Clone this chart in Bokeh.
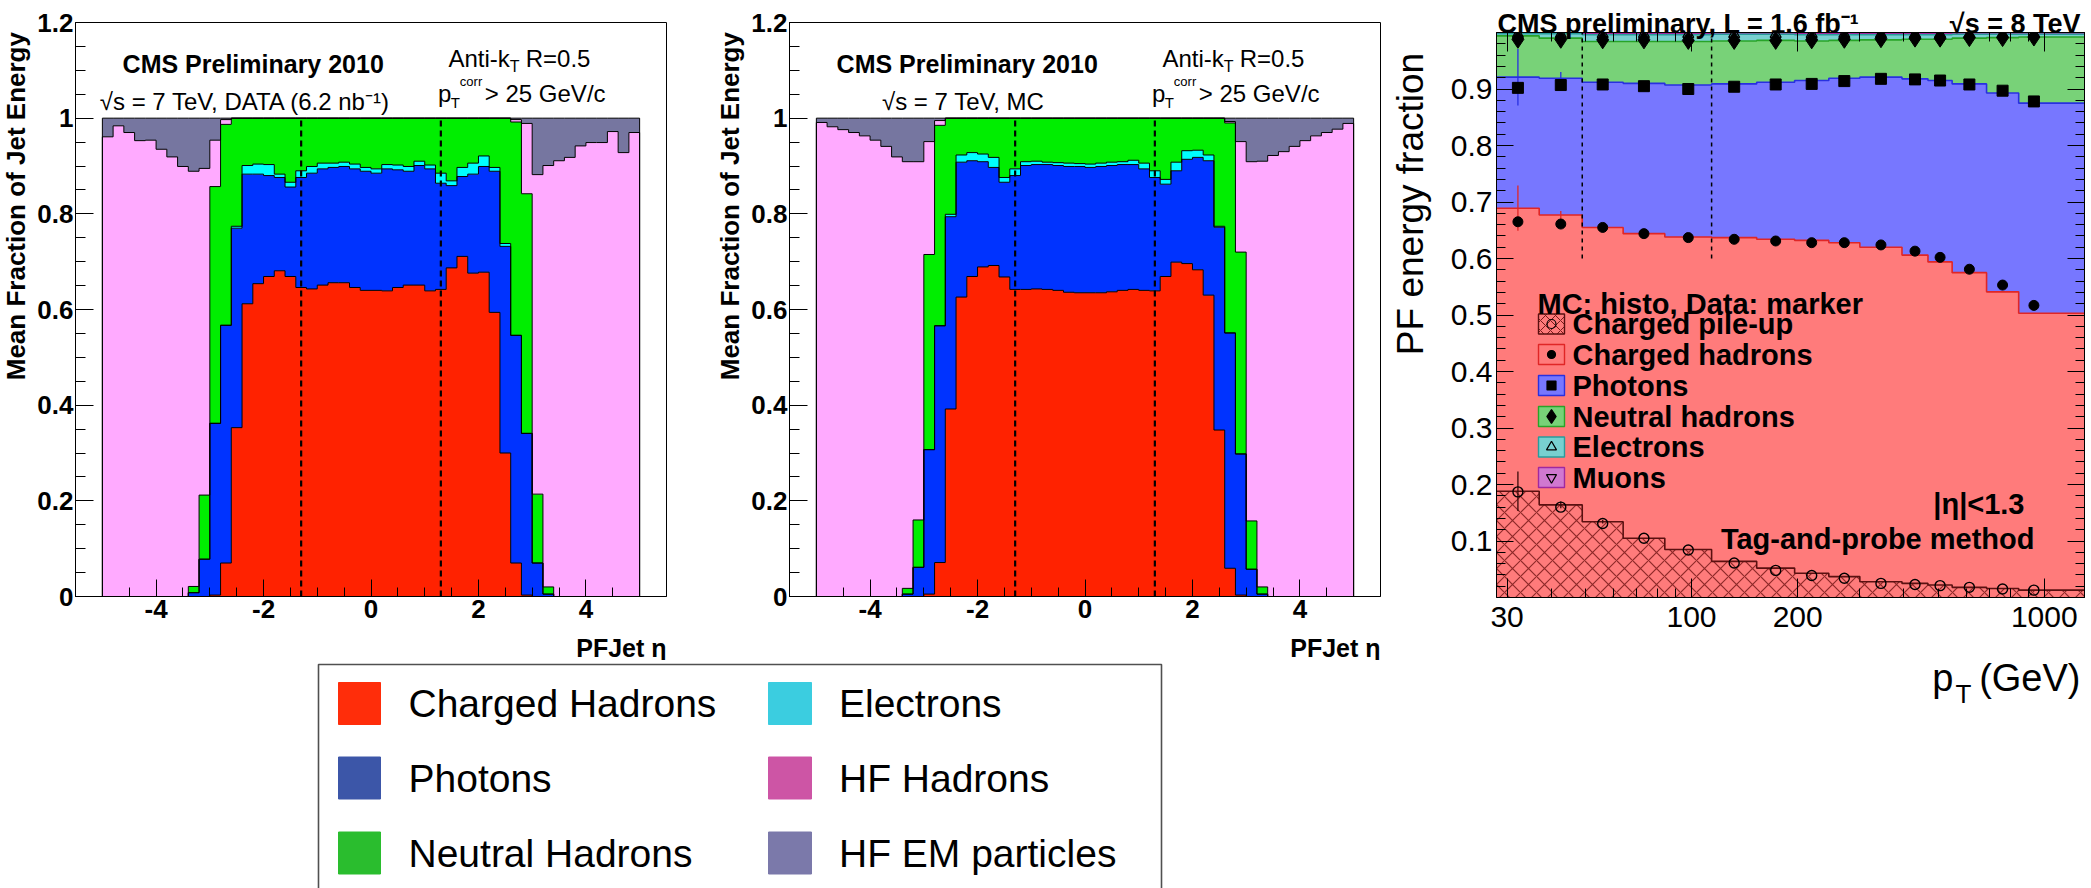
import numpy as np
from bokeh.plotting import figure
from bokeh.models import Range1d, FixedTicker, Label, LinearAxis, LogAxis
from bokeh.layouts import row, column
from bokeh.embed import file_html
from bokeh.resources import INLINE

FONT = "Liberation Sans"

# ------------------------------------------------------------------
# PF jet energy composition versus eta (2010 data and simulation)
# ------------------------------------------------------------------
eta_edges = np.round(np.linspace(-5.0, 5.0, 51), 3)
eta_cuts = [-1.3, 1.3]
cut_top = 1.0

eta_ticks = [-4, -2, 0, 2, 4]
eta_tick_labels = ["-4", "-2", "0", "2", "4"]
frac_ticks = [0.0, 0.2, 0.4, 0.6, 0.8, 1.0, 1.2]
frac_tick_labels = ["0", "0.2", "0.4", "0.6", "0.8", "1", "1.2"]

# stacking order: charged hadrons, photons, electrons, neutral hadrons, HF hadrons, HF EM
species_colors = ["#ff2200", "#0033ff", "#00ffff", "#00ee00", "#ffaaff", "#7676a0"]

data10_ch = [
    0, 0, 0, 0, 0, 0, 0, 0, 0, 0,
    0.003, 0.070, 0.353, 0.612, 0.654, 0.669, 0.681, 0.669, 0.646, 0.643,
    0.651, 0.656, 0.656, 0.646, 0.640, 0.640, 0.639, 0.646, 0.651, 0.651,
    0.639, 0.642, 0.687, 0.711, 0.676, 0.678, 0.594, 0.300, 0.070, 0.003,
    0, 0, 0, 0, 0, 0, 0, 0, 0, 0]
data10_ph = [
    0, 0, 0, 0, 0, 0, 0, 0, 0.008, 0.078,
    0.359, 0.497, 0.417, 0.271, 0.229, 0.211, 0.195, 0.187, 0.230, 0.242,
    0.243, 0.241, 0.243, 0.248, 0.249, 0.245, 0.255, 0.246, 0.238, 0.250,
    0.255, 0.222, 0.172, 0.167, 0.207, 0.221, 0.295, 0.432, 0.476, 0.338,
    0.070, 0.005, 0, 0, 0, 0, 0, 0, 0, 0]
data10_el = [
    0, 0, 0, 0, 0, 0, 0, 0, 0, 0,
    0, 0, 0.004, 0.018, 0.021, 0.023, 0.007, 0.010, 0.014, 0.014,
    0.012, 0.009, 0.009, 0.010, 0.008, 0.009, 0.009, 0.010, 0.010, 0.009,
    0.008, 0.021, 0.010, 0.019, 0.023, 0.022, 0.008, 0.006, 0, 0,
    0, 0, 0, 0, 0, 0, 0, 0, 0, 0]
data10_nh = [
    0, 0, 0, 0, 0, 0, 0, 0, 0.013, 0.134,
    0.495, 0.420, 0.226, 0.099, 0.096, 0.097, 0.117, 0.134, 0.110, 0.101,
    0.094, 0.094, 0.092, 0.096, 0.103, 0.106, 0.097, 0.098, 0.101, 0.090,
    0.098, 0.115, 0.131, 0.103, 0.094, 0.079, 0.103, 0.262, 0.446, 0.501,
    0.144, 0.015, 0, 0, 0, 0, 0, 0, 0, 0]
data10_hfh = [
    0.961, 0.984, 0.970, 0.953, 0.954, 0.935, 0.919, 0.899, 0.868, 0.683,
    0.097, 0.010, 0, 0, 0, 0, 0, 0, 0, 0,
    0, 0, 0, 0, 0, 0, 0, 0, 0, 0,
    0, 0, 0, 0, 0, 0, 0, 0, 0.005, 0.147,
    0.668, 0.881, 0.911, 0.918, 0.942, 0.949, 0.949, 0.972, 0.928, 0.970]
data10_hfem = [
    0.039, 0.016, 0.030, 0.047, 0.046, 0.065, 0.081, 0.101, 0.111, 0.105,
    0.046, 0.003, 0, 0, 0, 0, 0, 0, 0, 0,
    0, 0, 0, 0, 0, 0, 0, 0, 0, 0,
    0, 0, 0, 0, 0, 0, 0, 0, 0.003, 0.011,
    0.118, 0.099, 0.089, 0.082, 0.058, 0.051, 0.051, 0.028, 0.072, 0.030]

mc10_ch = [
    0, 0, 0, 0, 0, 0, 0, 0, 0, 0,
    0.005, 0.071, 0.392, 0.626, 0.669, 0.689, 0.692, 0.668, 0.642, 0.642,
    0.643, 0.642, 0.640, 0.636, 0.635, 0.635, 0.635, 0.637, 0.640, 0.642,
    0.640, 0.639, 0.669, 0.699, 0.696, 0.683, 0.630, 0.348, 0.059, 0.003,
    0, 0, 0, 0, 0, 0, 0, 0, 0, 0]
mc10_ph = [
    0, 0, 0, 0, 0, 0, 0, 0, 0.005, 0.061,
    0.302, 0.495, 0.402, 0.282, 0.242, 0.220, 0.205, 0.198, 0.238, 0.259,
    0.260, 0.261, 0.261, 0.263, 0.264, 0.262, 0.264, 0.264, 0.263, 0.261,
    0.254, 0.237, 0.193, 0.191, 0.218, 0.235, 0.281, 0.424, 0.492, 0.295,
    0.057, 0.005, 0, 0, 0, 0, 0, 0, 0, 0]
mc10_el = [
    0, 0, 0, 0, 0, 0, 0, 0, 0, 0,
    0, 0, 0.005, 0.015, 0.017, 0.016, 0.021, 0.010, 0.014, 0.008,
    0.007, 0.005, 0.006, 0.007, 0.006, 0.007, 0.007, 0.007, 0.006, 0.009,
    0.012, 0.014, 0.010, 0.018, 0.018, 0.015, 0.012, 0.002, 0, 0,
    0, 0, 0, 0, 0, 0, 0, 0, 0, 0]
mc10_nh = [
    0, 0, 0, 0, 0, 0, 0, 0, 0.012, 0.099,
    0.408, 0.419, 0.201, 0.077, 0.072, 0.075, 0.082, 0.124, 0.106, 0.091,
    0.090, 0.092, 0.093, 0.094, 0.095, 0.096, 0.094, 0.092, 0.091, 0.088,
    0.094, 0.110, 0.128, 0.092, 0.068, 0.067, 0.077, 0.226, 0.439, 0.422,
    0.101, 0.015, 0, 0, 0, 0, 0, 0, 0, 0]
mc10_hfh = [
    0.991, 0.982, 0.976, 0.970, 0.963, 0.954, 0.941, 0.919, 0.892, 0.749,
    0.236, 0.010, 0, 0, 0, 0, 0, 0, 0, 0,
    0, 0, 0, 0, 0, 0, 0, 0, 0, 0,
    0, 0, 0, 0, 0, 0, 0, 0, 0.003, 0.231,
    0.751, 0.890, 0.922, 0.930, 0.941, 0.953, 0.963, 0.970, 0.977, 0.989]
mc10_hfem = [
    0.009, 0.018, 0.024, 0.030, 0.037, 0.046, 0.059, 0.081, 0.091, 0.091,
    0.049, 0.005, 0, 0, 0, 0, 0, 0, 0, 0,
    0, 0, 0, 0, 0, 0, 0, 0, 0, 0,
    0, 0, 0, 0, 0, 0, 0, 0, 0.007, 0.049,
    0.091, 0.090, 0.078, 0.070, 0.059, 0.047, 0.037, 0.030, 0.023, 0.011]

legend_labels = ["Charged Hadrons", "Photons", "Neutral Hadrons",
                 "Electrons", "HF Hadrons", "HF EM particles"]
legend_colors = ["#ff2d0a", "#3c56a8", "#2abd2e", "#3bcde0", "#cd55a5", "#7b79aa"]

# ------------------------------------------------------------------
# PF jet energy composition versus pT, |eta| < 1.3 (tag-and-probe)
# ------------------------------------------------------------------
pt_edges = [28, 37, 49, 64, 84, 114, 153, 196, 245, 300, 395, 468, 548, 686, 846, 1327]
pt_data = [32.2, 42.6, 56.0, 73.3, 97.9, 132.1, 173.2, 219.1, 271.1, 344.3,
           430.0, 506.5, 613.2, 761.6, 934.4]
pt_cuts = [49, 114]
pt_cut_span = (0.6, 1.0)
pt_ticks = [30, 100, 200, 1000]
pt_tick_labels = ["30", "100", "200", "1000"]
pt_minor = [40, 50, 60, 70, 80, 90, 300, 400, 500, 600, 700, 800, 900]
pf_ticks = [0.1, 0.2, 0.3, 0.4, 0.5, 0.6, 0.7, 0.8, 0.9]
pf_tick_labels = ["0.1", "0.2", "0.3", "0.4", "0.5", "0.6", "0.7", "0.8", "0.9"]
pf_minor = [v / 50 for v in range(1, 50)]

# simulation (stacked histogram): pile-up, charged hadrons, photons, neutral hadrons, electrons, muons
mc_pu = [0.188, 0.164, 0.134, 0.105, 0.085, 0.064, 0.052, 0.043, 0.037, 0.028, 0.025, 0.022, 0.018, 0.016, 0.013]
mc_ch = [0.501, 0.513, 0.521, 0.539, 0.553, 0.573, 0.582, 0.589, 0.591, 0.592, 0.581, 0.572, 0.557, 0.525, 0.490]
mc_ph = [0.232, 0.242, 0.257, 0.266, 0.269, 0.272, 0.278, 0.283, 0.291, 0.301, 0.312, 0.321, 0.334, 0.352, 0.372]
mc_nh = [0.073, 0.071, 0.072, 0.074, 0.077, 0.076, 0.074, 0.070, 0.067, 0.066, 0.070, 0.073, 0.081, 0.098, 0.117]
mc_el = [0.004, 0.008, 0.012, 0.012, 0.012, 0.012, 0.011, 0.011, 0.010, 0.009, 0.008, 0.008, 0.007, 0.006, 0.005]
mc_mu = [0.002, 0.002, 0.002, 0.002, 0.002, 0.002, 0.002, 0.002, 0.002, 0.002, 0.002, 0.002, 0.002, 0.002, 0.002]
mc_err_pu = [0.035, 0.006, 0.003, 0, 0, 0, 0, 0, 0, 0, 0, 0, 0, 0, 0]
mc_err_ch = [0.040, 0.007, 0.003, 0, 0, 0, 0, 0, 0, 0, 0, 0, 0, 0, 0]
mc_err_ph = [0.050, 0.011, 0.003, 0, 0, 0, 0, 0, 0, 0, 0, 0, 0, 0, 0]

# data (markers), same stacking
data_pu = [0.187, 0.160, 0.131, 0.105, 0.084, 0.061, 0.048, 0.039, 0.034, 0.025, 0.023, 0.021, 0.018, 0.015, 0.013]
data_ch = [0.478, 0.501, 0.524, 0.539, 0.553, 0.573, 0.583, 0.589, 0.594, 0.599, 0.590, 0.581, 0.563, 0.538, 0.504]
data_ph = [0.237, 0.246, 0.253, 0.261, 0.263, 0.270, 0.277, 0.281, 0.286, 0.294, 0.304, 0.313, 0.327, 0.344, 0.361]
data_nh = [0.086, 0.081, 0.079, 0.082, 0.086, 0.082, 0.078, 0.078, 0.074, 0.071, 0.073, 0.075, 0.083, 0.094, 0.114]
data_el = [0.009, 0.009, 0.010, 0.010, 0.011, 0.011, 0.011, 0.010, 0.009, 0.008, 0.007, 0.007, 0.006, 0.006, 0.005]

pf_labels = ["Charged pile-up", "Charged hadrons", "Photons", "Neutral hadrons", "Electrons", "Muons"]
pf_fill = ["#ff7b7b", "#ff7b7b", "#7777ff", "#78d278", "#78d0d0", "#d078d0"]
pf_line = ["#5a1010", "#e02626", "#2830e0", "#28a428", "#289c9c", "#a028a0"]


# ------------------------------------------------------------------
def step_xy(edges, values):
    return np.repeat(np.asarray(edges, float), 2)[1:-1], np.repeat(np.asarray(values, float), 2)


def make_label(x, y, text, size, bold=False, align="left", baseline="alphabetic", angle=0.0):
    return Label(x=x, y=y, text=text, text_font=FONT, text_font_size=f"{size}px",
                 text_font_style="bold" if bold else "normal", text_align=align,
                 text_baseline=baseline, angle=angle, text_color="black")


def add_label(p, *args, **kw):
    p.add_layout(make_label(*args, **kw))


def style_axis(ax, tick_in, minor_in, standoff, size, bold):
    ax.major_tick_in = tick_in
    ax.major_tick_out = 0
    ax.minor_tick_in = minor_in
    ax.minor_tick_out = 0
    ax.major_label_standoff = standoff
    ax.major_label_text_font = FONT
    ax.major_label_text_font_style = "bold" if bold else "normal"
    ax.major_label_text_font_size = f"{size}px"
    ax.major_label_text_color = "black"
    ax.axis_line_color = "black"
    ax.major_tick_line_color = "black"
    ax.minor_tick_line_color = "black"


def tick_only_axis(cls, positions, length):
    # an unlabeled axis carrying only tick marks of one length
    ax = cls(ticker=FixedTicker(ticks=[], minor_ticks=positions))
    ax.minor_tick_in = length
    ax.minor_tick_out = 0
    ax.major_tick_in = 0
    ax.major_tick_out = 0
    ax.major_label_standoff = 0
    ax.axis_line_color = "black"
    ax.minor_tick_line_color = "black"
    return ax


def title_strip(x0, x1, height, text, x_mid, y_end, size, bold):
    # narrow strip holding a vertical axis title, in page pixel coordinates
    s = figure(width=x1 - x0, height=height, x_range=Range1d(x0, x1), y_range=Range1d(height, 0),
               min_border=0, x_axis_location=None, y_axis_location=None,
               output_backend="svg", toolbar_location=None)
    s.grid.visible = False
    s.outline_line_color = None
    add_label(s, x_mid, y_end, text, size, bold=bold, align="right", baseline="middle",
              angle=np.pi / 2)
    return s


# geometry of the eta panels: frame 592 x 574 at page offset (74, 22)
def ex(px):
    return -5.5 + (px - 74) * 11.0 / 592


def ey(py):
    return (596 - py) * 1.2 / 574


def eta_figure(width, border_right, fracs, energy_text, energy_cx):
    p = figure(width=width, height=660, x_range=Range1d(-5.5, 5.5), y_range=Range1d(0, 1.2),
               min_border_left=40, min_border_right=border_right, min_border_top=22,
               min_border_bottom=64, output_backend="svg", toolbar_location=None)
    p.grid.visible = False
    p.outline_line_color = "black"
    p.outline_line_width = 1

    base = np.zeros(len(eta_edges) - 1)
    tops = []
    for frac, color in zip(fracs, species_colors):
        top = base + np.asarray(frac, float)
        xs, y1 = step_xy(eta_edges, base)
        _, y2 = step_xy(eta_edges, top)
        p.varea(x=xs, y1=y1, y2=y2, fill_color=color, fill_alpha=1.0)
        tops.append(top)
        base = top
    for top in tops:
        xs, ys = step_xy(eta_edges, top)
        p.line(x=np.concatenate([[eta_edges[0]], xs, [eta_edges[-1]]]),
               y=np.concatenate([[0.0], ys, [0.0]]), line_color="black", line_width=1)
    p.segment(x0=eta_cuts, y0=[0.0] * len(eta_cuts), x1=eta_cuts, y1=[cut_top] * len(eta_cuts),
              line_color="black", line_width=2.2, line_dash="6 4")

    xa, ya = p.xaxis[0], p.yaxis[0]
    xa.ticker = FixedTicker(ticks=eta_ticks, minor_ticks=[v / 2 for v in range(-10, 11)])
    xa.major_label_overrides = dict(zip(eta_ticks, eta_tick_labels))
    ya.ticker = FixedTicker(ticks=frac_ticks, minor_ticks=[v / 20 for v in range(0, 25)])
    ya.major_label_overrides = dict(zip(frac_ticks, frac_tick_labels))
    style_axis(xa, 17, 9, 3, 26, True)
    style_axis(ya, 18, 10, 2, 26, True)

    add_label(p, ex(252), ey(63), "CMS Preliminary 2010", 25, bold=True, align="center")
    add_label(p, ex(energy_cx), ey(101), energy_text, 24, align="center")
    add_label(p, ex(509), ey(58), "Anti-k", 24, align="right")
    add_label(p, ex(509), ey(66), "T", 16)
    add_label(p, ex(525), ey(58), "R=0.5", 24)
    add_label(p, ex(437), ey(93), "p", 24)
    add_label(p, ex(450), ey(102), "T", 15)
    add_label(p, ex(459), ey(81), "corr", 13)
    add_label(p, ex(484), ey(93), "> 25 GeV/c", 24)
    # x title below the frame, kept in the bottom panel so it is not clipped
    p.add_layout(make_label(ex(666), ey(647), "PFJet \u03b7", 25, bold=True, align="right",
                            baseline="middle"), "below")
    return p


p_data = eta_figure(680, 48, [data10_ch, data10_ph, data10_el, data10_nh, data10_hfh, data10_hfem],
                    "\u221as = 7 TeV, DATA (6.2 nb\u207b\u00b9)", 244)
p_mc = eta_figure(634, 2, [mc10_ch, mc10_ph, mc10_el, mc10_nh, mc10_hfh, mc10_hfem],
                  "\u221as = 7 TeV, MC", 248)
t_data = title_strip(0, 34, 660, "Mean Fraction of Jet Energy", 15.5, 11, 26, True)
t_mc = title_strip(0, 34, 660, "Mean Fraction of Jet Energy", 15.5, 11, 26, True)

# ------------------------------------------------------------------
# shared legend for the two eta panels
leg = figure(width=1382, height=228, x_range=Range1d(0, 1382), y_range=Range1d(888, 660),
             min_border=0, x_axis_location=None, y_axis_location=None,
             output_backend="svg", toolbar_location=None)
leg.grid.visible = False
leg.outline_line_color = None
leg.quad(left=[318], right=[1161], top=[664], bottom=[900], fill_color=None,
         line_color="#505050", line_width=1.6)
row_y = [703, 777.5, 852.5]
col_box = [(338, 380), (768, 811)]
col_text = [408, 838.5]
for i, (lab, col) in enumerate(zip(legend_labels, legend_colors)):
    c, r = divmod(i, 3)
    leg.quad(left=[col_box[c][0]], right=[col_box[c][1]], top=[row_y[r] - 21], bottom=[row_y[r] + 21],
             fill_color=col, line_color=col)
    leg.add_layout(make_label(col_text[c], row_y[r], lab, 39, baseline="middle"))

# ------------------------------------------------------------------
# pT panel: page frame x 1496..2084, y 32..597
LOG_LO, LOG_HI = np.log10(28), np.log10(1300)


def lx(px):
    return 10 ** (LOG_LO + (px - 1496) * (LOG_HI - LOG_LO) / 588)


def ly(py):
    return (597 - py) / 565


p3 = figure(width=651, height=888, x_axis_type="log", x_range=Range1d(28, 1300), y_range=Range1d(0, 1),
            min_border_left=56, min_border_right=7, min_border_top=32, min_border_bottom=291,
            output_backend="svg", toolbar_location=None)
p3.grid.visible = False
p3.outline_line_color = "black"
p3.outline_line_width = 1

mc_layers = [mc_pu, mc_ch, mc_ph, mc_nh, mc_el, mc_mu]
base = np.zeros(len(pt_edges) - 1)
mc_tops = []
for i, (vals, fc) in enumerate(zip(mc_layers, pf_fill)):
    top = base + np.asarray(vals, float)
    xs, y1 = step_xy(pt_edges, base)
    _, y2 = step_xy(pt_edges, top)
    if i == 0:
        p3.varea(x=xs, y1=y1, y2=y2, fill_color=fc, hatch_pattern="diagonal_cross",
                 hatch_color="#7a1a1a", hatch_alpha=0.85, hatch_scale=16, hatch_weight=1.2)
    else:
        p3.varea(x=xs, y1=y1, y2=y2, fill_color=fc)
    mc_tops.append(top)
    base = top
for top, lc in list(zip(mc_tops, pf_line))[::-1]:
    xs, ys = step_xy(pt_edges, top)
    p3.line(x=xs, y=ys, line_color=lc, line_width=1.6)

cum_mc = np.cumsum(np.array(mc_layers), axis=0)
for k, (err, lc) in enumerate(zip([mc_err_pu, mc_err_ch, mc_err_ph], ["#3a0a0a", "#e02626", "#2830e0"])):
    err = np.asarray(err)
    m = err > 0
    p3.segment(x0=np.asarray(pt_data)[m], y0=(cum_mc[k] - err)[m], x1=np.asarray(pt_data)[m],
               y1=(cum_mc[k] + err)[m], line_color=lc, line_width=1.3)

p3.segment(x0=pt_cuts, y0=[pt_cut_span[0]] * 2, x1=pt_cuts, y1=[pt_cut_span[1]] * 2,
           line_color="black", line_width=1.5, line_dash="4 4")

cum_data = np.cumsum(np.array([data_pu, data_ch, data_ph, data_nh, data_el]), axis=0)
p3.scatter(pt_data, cum_data[0], marker="circle", size=10, fill_color=None, line_color="black", line_width=1.4)
p3.scatter(pt_data, cum_data[1], marker="circle", size=10, fill_color="black", line_color="black")
p3.scatter(pt_data, cum_data[2], marker="square", size=11, fill_color="black", line_color="black")
p3.scatter(pt_data, cum_data[3], marker="diamond", size=18, fill_color="black", line_color="black")
p3.scatter(pt_data, cum_data[4], marker="triangle", size=11, fill_color=None, line_color="black", line_width=1.3)

xa3, ya3 = p3.xaxis[0], p3.yaxis[0]
xa3.ticker = FixedTicker(ticks=pt_ticks, minor_ticks=pt_minor)
xa3.major_label_overrides = dict(zip(pt_ticks, pt_tick_labels))
ya3.ticker = FixedTicker(ticks=pf_ticks, minor_ticks=pf_minor)
ya3.major_label_overrides = dict(zip(pf_ticks, pf_tick_labels))
style_axis(xa3, 19, 9, 9, 30, False)
style_axis(ya3, 17, 9, 4, 30, False)

# tick marks on the opposite sides
p3.add_layout(tick_only_axis(LogAxis, pt_minor, 9), "above")
p3.add_layout(tick_only_axis(LogAxis, pt_ticks, 19), "above")
p3.add_layout(tick_only_axis(LinearAxis, pf_minor, 9), "right")
p3.add_layout(tick_only_axis(LinearAxis, pf_ticks, 17), "right")

# in-frame legend
box_y = [323.5, 354, 385, 416, 446.5, 477]
box_markers = [("circle", None, 9), ("circle", "black", 8), ("square", "black", 9),
               ("diamond", "black", 14), ("triangle", None, 10), ("inverted_triangle", None, 10)]
for i, (lab, fc, lc, yc, mk) in enumerate(zip(pf_labels, pf_fill, pf_line, box_y, box_markers)):
    kw = dict(hatch_pattern="diagonal_cross", hatch_color="#7a1a1a", hatch_scale=10,
              hatch_weight=1.0) if i == 0 else {}
    p3.quad(left=[lx(1538)], right=[lx(1564)], top=[ly(yc - 10)], bottom=[ly(yc + 10)],
            fill_color=fc, line_color=lc, line_width=1.4, **kw)
    p3.scatter([lx(1551)], [ly(yc)], marker=mk[0], size=mk[2], fill_color=mk[1],
               line_color="black", line_width=1.2)
    add_label(p3, lx(1572), ly(yc), lab, 29, bold=True, baseline="middle")

add_label(p3, lx(1537), ly(303), "MC: histo, Data: marker", 29, bold=True)
add_label(p3, lx(2024), ly(503), "|\u03b7|<1.3", 29, bold=True, align="right")
add_label(p3, lx(2034), ly(538), "Tag-and-probe method", 29, bold=True, align="right")

# texts outside the frame live in the (roomy) bottom panel so they are not clipped
for lab in (make_label(lx(1497), ly(23), "CMS preliminary, L = 1.6 fb\u207b\u00b9", 27, bold=True),
            make_label(lx(2080), ly(23), "\u221as = 8 TeV", 27, bold=True, align="right"),
            make_label(lx(1953), ly(677), "p", 38, align="right"),
            make_label(lx(1955), ly(693), "T", 26),
            make_label(lx(2080), ly(677), "(GeV)", 38, align="right")):
    p3.add_layout(lab, "below")

t_pt = title_strip(1382, 1440, 888, "PF energy fraction", 1410, 32, 37, False)

layout = row(column(row(t_data, p_data, t_mc, p_mc), leg), t_pt, p3)
open("out.html", "w").write(file_html(layout, INLINE))
